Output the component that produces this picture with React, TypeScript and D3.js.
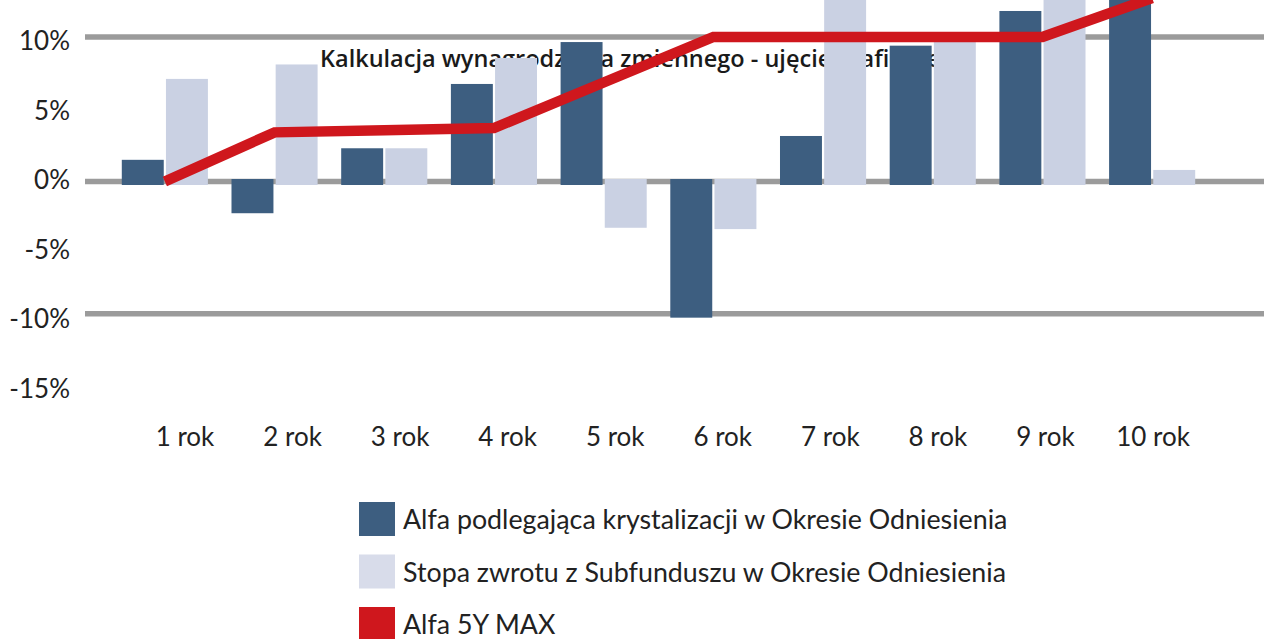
import React from "react";
import * as d3 from "d3";

const categories = ["1 rok", "2 rok", "3 rok", "4 rok", "5 rok", "6 rok", "7 rok", "8 rok", "9 rok", "10 rok"];
const alfaKryst = [1.5, -2.4, 2.3, 6.75, 9.65, -10.3, 3.15, 9.4, 11.8, 13.5];
const stopaZwrotu = [7.1, 8.1, 2.3, 8.55, -3.5, -3.6, 14.5, 9.8, 14.5, 0.8];
const alfa5yMax = [0, 3.4, 3.55, 3.7, 6.85, 10, 10, 10, 10, 12.7];
const yTickValues = [10, 5, 0, -5, -10, -15];
const gridValues = [10, 0, -10];
const legendLabels = [
  "Alfa podlegająca krystalizacji w Okresie Odniesienia",
  "Stopa zwrotu z Subfunduszu w Okresie Odniesienia",
  "Alfa 5Y MAX",
];
const titleText = "Kalkulacja wynagrodzenia zmiennego - ujęcie graficzne";

const W = 1264;
const H = 639;
const DARK = "#3d5e80";
const LIGHT = "#cad1e3";
const RED = "#cf171d";
const GRID = "#9b9b9b";
const FONT = "Lato, 'Open Sans', sans-serif";

export default function App() {
  const x = d3
    .scaleBand<string>()
    .domain(categories)
    .range([110, 1207])
    .paddingInner(0.215)
    .paddingOuter(0.1075);
  const sub = d3
    .scaleBand<string>()
    .domain(["alfa", "stopa"])
    .range([0, x.bandwidth()])
    .paddingInner(0.05);
  const xLabel = d3.scalePoint<string>().domain(categories).range([185, 1153]);
  const y = d3.scaleLinear().domain([-10, 0, 10]).range([313.7, 181.5, 37]);
  const yLabel = d3.scaleLinear().domain([-15, 10]).range([388, 40]);
  const y0 = y(0);

  const barRect = (v: number) => {
    if (v >= 0) {
      const top = y(v);
      return { y: top, h: y0 + 3.5 - top };
    }
    const top = y0 - 2.5;
    return { y: top, h: y(v) - top };
  };

  const line = d3
    .line<number>()
    .x((_, i) => (x(categories[i]) as number) + x.bandwidth() / 2)
    .y((d) => y(d));

  const legendY = d3.scaleLinear().domain([0, 1]).range([519, 571.5]);

  return (
    <svg
      width={W}
      height={H}
      style={{ position: "absolute", top: 0, left: 0, display: "block", background: "#fff" }}
    >
      {gridValues.map((g) => (
        <line key={g} x1={85} x2={W} y1={y(g)} y2={y(g)} stroke={GRID} strokeWidth={5.5} />
      ))}
      {yTickValues.map((t) => (
        <text
          key={t}
          x={70}
          y={yLabel(t)}
          textAnchor="end"
          dominantBaseline="central"
          fontFamily={FONT}
          fontSize={26}
          fill="#222"
        >
          {t}%
        </text>
      ))}
      <text x={320} y={67} fontFamily="'Open Sans', sans-serif" fontSize={23.5} fontWeight={600} fill="#1a1a1a">
        {titleText}
      </text>
      {categories.map((c, i) => {
        const bx = x(c) as number;
        const a = barRect(alfaKryst[i]);
        const s = barRect(stopaZwrotu[i]);
        return (
          <g key={c}>
            <rect x={bx + (sub("alfa") as number)} y={a.y} width={sub.bandwidth()} height={a.h} fill={DARK} />
            <rect x={bx + (sub("stopa") as number)} y={s.y} width={sub.bandwidth()} height={s.h} fill={LIGHT} />
            <text
              x={xLabel(c) as number}
              y={436}
              textAnchor="middle"
              dominantBaseline="central"
              fontFamily={FONT}
              fontSize={26}
              fill="#222"
            >
              {c}
            </text>
          </g>
        );
      })}
      <path
        d={line(alfa5yMax) || ""}
        fill="none"
        stroke={RED}
        strokeWidth={10.5}
        strokeLinejoin="miter"
        strokeLinecap="butt"
      />
      {legendLabels.map((l, i) => (
        <g key={l}>
          <rect
            x={359}
            y={legendY(i) - 17}
            width={36}
            height={34}
            fill={[DARK, "#d8dcea", RED][i]}
          />
          <text
            x={403}
            y={legendY(i)}
            dominantBaseline="central"
            fontFamily={FONT}
            fontSize={26.8}
            fill="#222"
          >
            {l}
          </text>
        </g>
      ))}
    </svg>
  );
}
